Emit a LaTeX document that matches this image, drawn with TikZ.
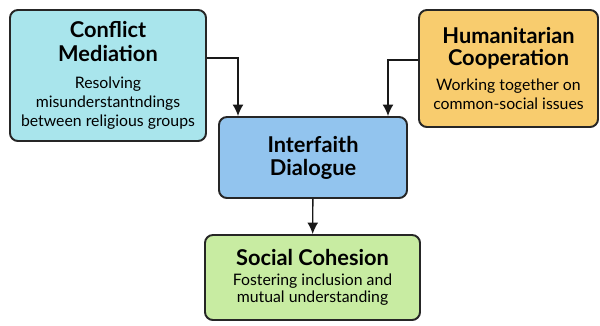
\documentclass[tikz,border=0pt]{standalone}
\usepackage{fontspec}
\setmainfont{Lato}
\usepackage{tikz}
\usetikzlibrary{arrows.meta,positioning}
\definecolor{cmcol}{HTML}{A9E5EC}
\definecolor{hccol}{HTML}{F8CC6E}
\definecolor{idcol}{HTML}{92C4EE}
\definecolor{sccol}{HTML}{C8ECA2}
\newcommand{\hdf}{\fontsize{12.4}{10.8}\selectfont\bfseries}
\newcommand{\txf}{\fontsize{9}{10.8}\selectfont\mdseries}

\begin{document}
\begin{tikzpicture}[
  box/.style={draw=black!85, line width=1.1pt, rounded corners=4.5pt, align=center, inner sep=2pt,
    font=\fontsize{9}{10.8}\selectfont},
  arr/.style={-{Latex[length=2.3mm,width=2.2mm]}, line width=0.8pt, black!90}]
\useasboundingbox (0,0) rectangle (12,-6.52);
\node [box, fill=cmcol, minimum width=3.92cm, minimum height=2.62cm] (conflict) at (2.16,-1.51)
  {\hdf Conflict\\[2.8pt]\hdf Mediation\\[4.5pt]\txf Resolving\\\txf misunderstantndings\\\txf between religious groups};
\node [box, fill=hccol, minimum width=3.58cm, minimum height=2.34cm] (human) at (10.17,-1.37)
  {\hdf Humanitarian\\[2.2pt]\hdf Cooperation\\[3.4pt]\txf Working together on\\\txf common-social issues};
\node [box, fill=idcol, minimum width=3.76cm, minimum height=1.62cm] (dialog) at (6.26,-3.15)
  {\hdf Interfaith\\[2.2pt]\hdf Dialogue};
\node [box, fill=sccol, minimum width=4.3cm, minimum height=1.7cm] (social) at (6.25,-5.55)
  {\hdf Social Cohesion\\[0.6pt]\txf Fostering inclusion and\\[-1.2pt]\txf mutual understanding};
\coordinate (kneeL) at (4.76,-1.16);
\coordinate (kneeR) at (7.76,-1.2);
\draw[arr] (conflict.east |- kneeL) -- (kneeL) -- (kneeL |- dialog.north);
\draw[arr] (human.west |- kneeR) -- (kneeR) -- (kneeR |- dialog.north);
\draw[arr] (dialog) -- (social);
\end{tikzpicture}
\end{document}
